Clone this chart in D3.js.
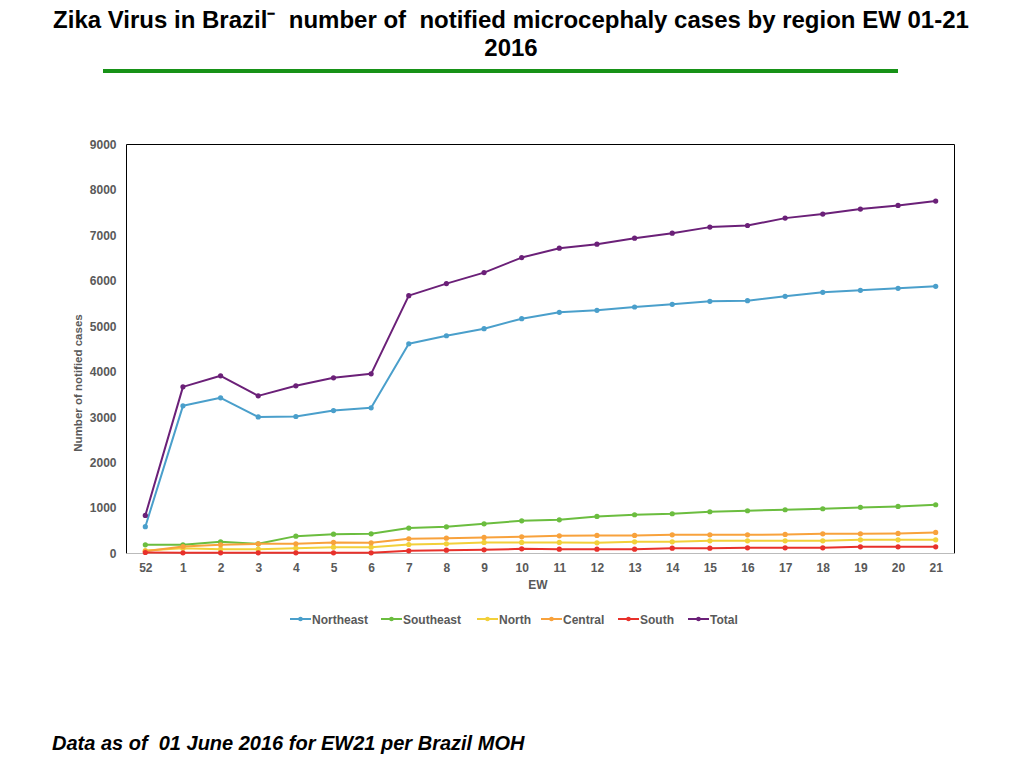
<!DOCTYPE html>
<html><head><meta charset="utf-8">
<script src="https://cdn.jsdelivr.net/npm/d3@7"></script>
<style>body{margin:0;background:#fff;}svg{display:block;font-family:"Liberation Sans",Arial,Helvetica,sans-serif;}text{white-space:pre;}</style>
</head><body>
<svg id="c" width="1024" height="768"></svg>
<script>
const weeks = ["52","1","2","3","4","5","6","7","8","9","10","11","12","13","14","15","16","17","18","19","20","21"];
const northeast = [590,3249,3425,3006,3015,3146,3205,4616,4792,4947,5167,5307,5352,5424,5483,5549,5564,5660,5748,5792,5836,5880];
const southeast = [191,191,257,213,382,426,434,559,588,654,720,742,816,853,875,919,941,963,985,1014,1036,1073];
const north = [66,118,96,96,118,140,140,198,213,243,243,243,235,257,257,279,279,279,279,301,301,301];
const central = [50,154,191,213,213,243,235,323,338,353,367,390,397,397,412,412,412,419,434,434,441,463];
const south = [22,15,15,15,15,15,15,59,74,81,103,96,96,96,118,118,125,125,125,147,147,147];
const total = [838,3667,3910,3469,3690,3866,3954,5674,5939,6181,6512,6718,6806,6939,7049,7182,7218,7380,7469,7579,7660,7755];
const seriesNames = ["Northeast","Southeast","North","Central","South","Total"];
const seriesColors = ["#4a9fcb","#6bbd3f","#f2d03a","#f8a23c","#e8312b","#6b2078"];
const yTicks = [0,1000,2000,3000,4000,5000,6000,7000,8000,9000];

const seriesData = [northeast,southeast,north,central,south,total];
const svg = d3.select("#c");
const L=126.5, R=954.5, T=144.5, B=553.5;
const x = d3.scalePoint().domain(weeks).range([L,R]).padding(0.5);
const y = d3.scaleLinear().domain([0,9000]).range([B,T]);
const gray = "#595959";

// title
svg.append("text").attr("x",511).attr("y",28).attr("text-anchor","middle")
  .attr("font-size",24).attr("font-weight","bold").attr("fill","#000")
  .text("Zika Virus in Brazil\u207B  number of  notified microcephaly cases by region EW 01-21");
svg.append("text").attr("x",511).attr("y",56).attr("text-anchor","middle")
  .attr("font-size",24).attr("font-weight","bold").attr("fill","#000").text("2016");
svg.append("line").attr("x1",103).attr("x2",898).attr("y1",71).attr("y2",71)
  .attr("stroke","#179217").attr("stroke-width",4);

// frame
svg.append("path").attr("d",`M${L},${B}V${T}H${R}V${B}`).attr("fill","none").attr("stroke","#000").attr("stroke-width",1);
svg.append("line").attr("x1",L).attr("x2",R).attr("y1",B).attr("y2",B).attr("stroke","#bbb").attr("stroke-width",1);

// y axis
const ya = svg.append("g").attr("transform",`translate(${L},0)`)
  .call(d3.axisLeft(y).tickValues(yTicks).tickFormat(d3.format("d")).tickSize(0).tickPadding(10));
ya.select(".domain").remove();
ya.selectAll("text").attr("font-size",12).attr("font-weight","bold").attr("fill",gray).attr("font-family","Liberation Sans, Arial, sans-serif");

// x axis
const xa = svg.append("g").attr("transform",`translate(0,${B})`)
  .call(d3.axisBottom(x).tickSize(0).tickPadding(10));
xa.select(".domain").remove();
xa.selectAll("text").attr("font-size",12).attr("font-weight","bold").attr("fill",gray).attr("font-family","Liberation Sans, Arial, sans-serif");

svg.append("text").attr("x",538).attr("y",589).attr("text-anchor","middle").attr("font-size",12)
  .attr("font-weight","bold").attr("fill",gray).text("EW");
svg.append("text").attr("transform","translate(82,383) rotate(-90)").attr("text-anchor","middle")
  .attr("font-size",11.5).attr("font-weight","bold").attr("fill",gray).text("Number of notified cases");

// lines
const line = d3.line().x((d,i)=>x(weeks[i])).y(d=>y(d));
seriesData.forEach((s,k)=>{
  const g = svg.append("g");
  g.append("path").datum(s).attr("d",line).attr("fill","none")
    .attr("stroke",seriesColors[k]).attr("stroke-width",2).attr("stroke-linejoin","round");
  g.selectAll("circle").data(s).join("circle")
    .attr("cx",(d,i)=>x(weeks[i])).attr("cy",d=>y(d)).attr("r",2.6).attr("fill",seriesColors[k]);
});

// legend
const legX = [290,381,477,541,618,688];
const lg = svg.append("g");
seriesNames.forEach((n,i)=>{
  const gx = legX[i];
  lg.append("line").attr("x1",gx).attr("x2",gx+21).attr("y1",619).attr("y2",619)
    .attr("stroke",seriesColors[i]).attr("stroke-width",2);
  lg.append("circle").attr("cx",gx+10.5).attr("cy",619).attr("r",2.3).attr("fill",seriesColors[i]);
  lg.append("text").attr("x",gx+22).attr("y",623.5).attr("font-size",12).attr("font-weight","bold")
    .attr("fill",gray).text(n);
});

// footer
svg.append("text").attr("x",52).attr("y",750).attr("font-size",20).attr("font-weight","bold")
  .attr("font-style","italic").attr("fill","#000").text("Data as of  01 June 2016 for EW21 per Brazil MOH");
</script>
</body></html>
